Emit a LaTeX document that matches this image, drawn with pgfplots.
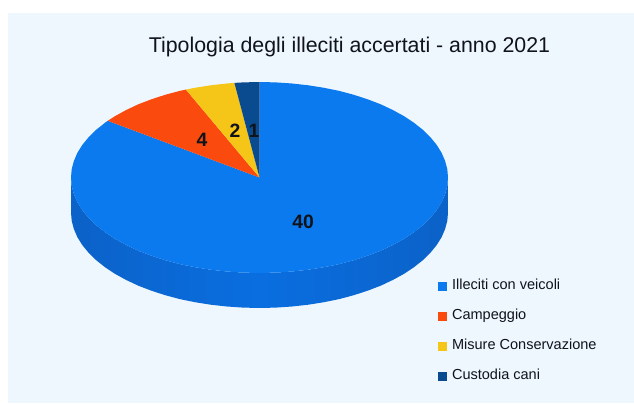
\documentclass[border=0pt]{standalone}
\usepackage{pgfplots}
\usepackage{fontspec}
\setmainfont{Liberation Sans}
\pgfplotsset{compat=1.18}

\definecolor{panel}{HTML}{EFF7FE}
\definecolor{veicoli}{HTML}{0A7AEE}
\definecolor{sideL}{HTML}{0B62C8}
\definecolor{sideM}{HTML}{0A6EE0}
\definecolor{campeggio}{HTML}{FA4A0E}
\definecolor{misure}{HTML}{F5C518}
\definecolor{custodia}{HTML}{0A4A8E}
\definecolor{ink}{HTML}{10141A}

\begin{document}
\begin{tikzpicture}
\begin{axis}[
    scale only axis,
    width=475.5pt, height=302.25pt, % 634x403 at 0.75pt
    xmin=-259.5, xmax=374.5, % pie centre at 0,0
    ymin=-225.5, ymax=177.5,
    hide axis,
    clip=false,
    legend cell align=left,
    legend image code/.code={
        \fill[#1] (0pt,-3.4pt) rectangle (6.9pt,3.5pt);
    },
    legend style={
        draw=none, fill=none, font=\fontsize{10.9}{12}\selectfont, text=ink,
        at={(axis cs:178.5,-101)}, anchor=north west,
        row sep=11pt, inner sep=0pt, outer sep=0pt,
        nodes={inner sep=0pt, text height=8pt, text depth=3.5pt},
        /tikz/column 1/.style={column sep=3.6pt},
    },
]
% white page, hide axis drops the axis box from the bounding box
\addplot[fill=white, draw=none, forget plot] coordinates {
    (-259.5,177.5) (374.5,177.5) (374.5,-225.5) (-259.5,-225.5)} --cycle;
% panel
\addplot[fill=panel, draw=none, forget plot] coordinates {
    (-251.5,164.5) (374.5,164.5) (374.5,-225.5) (-251.5,-225.5)} --cycle;

% side of the pie
\addplot[left color=sideL, right color=sideL, middle color=sideM, draw=none, forget plot] coordinates {
    (188.5,0) (187.8,-8.3) (185.6,-16.6) (182.1,-24.7) (177.1,-32.7) (170.8,-40.4)
    (163.2,-47.8) (154.4,-54.8) (144.4,-61.4) (133.3,-67.5) (121.2,-73.2) (108.1,-78.2)
    (94.3,-82.7) (79.7,-86.6) (64.5,-89.7) (48.8,-92.2) (32.7,-94) (16.4,-95.1) (0,-95.5)
    (-16.4,-95.1) (-32.7,-94) (-48.8,-92.2) (-64.5,-89.7) (-79.7,-86.6) (-94.3,-82.7)
    (-108.1,-78.2) (-121.2,-73.2) (-133.3,-67.5) (-144.4,-61.4) (-154.4,-54.8) (-163.2,-47.8)
    (-170.8,-40.4) (-177.1,-32.7) (-182.1,-24.7) (-185.6,-16.6) (-187.8,-8.3) (-188.5,0)
    (-188.5,-35) (-187.8,-43.3) (-185.6,-51.6) (-182.1,-59.7) (-177.1,-67.7) (-170.8,-75.4)
    (-163.2,-82.8) (-154.4,-89.8) (-144.4,-96.4) (-133.3,-102.5) (-121.2,-108.2) (-108.1,-113.2)
    (-94.3,-117.7) (-79.7,-121.6) (-64.5,-124.7) (-48.8,-127.2) (-32.7,-129) (-16.4,-130.1) (0,-130.5)
    (16.4,-130.1) (32.7,-129) (48.8,-127.2) (64.5,-124.7) (79.7,-121.6) (94.3,-117.7)
    (108.1,-113.2) (121.2,-108.2) (133.3,-102.5) (144.4,-96.4) (154.4,-89.8) (163.2,-82.8)
    (170.8,-75.4) (177.1,-67.7) (182.1,-59.7) (185.6,-51.6) (187.8,-43.3) (188.5,-35)} --cycle;

% top face: 40, 4, 2, 1 of 47
\addplot[fill=veicoli, draw=none] coordinates {
    (0,0) (0,95.5) (16.4,95.1) (32.7,94) (48.8,92.2) (64.5,89.7) (79.7,86.6) (94.3,82.7)
    (108.1,78.2) (121.2,73.2) (133.3,67.5) (144.4,61.4) (154.4,54.8) (163.2,47.8) (170.8,40.4)
    (177.1,32.7) (182.1,24.7) (185.6,16.6) (187.8,8.3) (188.5,0)
    (187.8,-8.3) (185.6,-16.6) (182.1,-24.7) (177.1,-32.7) (170.8,-40.4)
    (163.2,-47.8) (154.4,-54.8) (144.4,-61.4) (133.3,-67.5) (121.2,-73.2) (108.1,-78.2)
    (94.3,-82.7) (79.7,-86.6) (64.5,-89.7) (48.8,-92.2) (32.7,-94) (16.4,-95.1) (0,-95.5)
    (-16.4,-95.1) (-32.7,-94) (-48.8,-92.2) (-64.5,-89.7) (-79.7,-86.6) (-94.3,-82.7)
    (-108.1,-78.2) (-121.2,-73.2) (-133.3,-67.5) (-144.4,-61.4) (-154.4,-54.8) (-163.2,-47.8)
    (-170.8,-40.4) (-177.1,-32.7) (-182.1,-24.7) (-185.6,-16.6) (-187.8,-8.3) (-188.5,0)
    (-187.8,8.3) (-185.6,16.6) (-182.1,24.7) (-177.1,32.7) (-170.8,40.4) (-163.2,47.8)
    (-154.4,54.8) (-151.7,56.7)} --cycle;
\addlegendentry{Illeciti con veicoli}

\addplot[fill=campeggio, draw=none] coordinates {
    (0,0) (-151.7,56.7) (-144.4,61.4) (-133.3,67.5) (-121.2,73.2) (-108.1,78.2)
    (-94.3,82.7) (-79.7,86.6) (-73.6,87.9)} --cycle;
\addlegendentry{Campeggio}

\addplot[fill=misure, draw=none] coordinates {
    (0,0) (-73.6,87.9) (-64.5,89.7) (-48.8,92.2) (-32.7,94) (-25.1,94.6)} --cycle;
\addlegendentry{Misure Conservazione}

\addplot[fill=custodia, draw=none] coordinates {
    (0,0) (-25.1,94.6) (-16.4,95.1) (0,95.5)} --cycle;
\addlegendentry{Custodia cani}

% value labels
\addplot[only marks, mark=none, forget plot, point meta=explicit symbolic,
    nodes near coords, nodes near coords style={anchor=center, inner sep=0pt, text=ink,
    font=\fontsize{14.5}{14.5}\selectfont\bfseries}] coordinates {
    (43.5,-44.5)[40] (-57.5,37.5)[4] (-24.5,46.5)[2] (-5.5,47)[1]};

\node[text=ink, font=\fontsize{16}{18}\selectfont, anchor=center] at (axis cs:90,130.5)
    {Tipologia degli illeciti accertati - anno 2021};
\end{axis}
\end{tikzpicture}
\end{document}
